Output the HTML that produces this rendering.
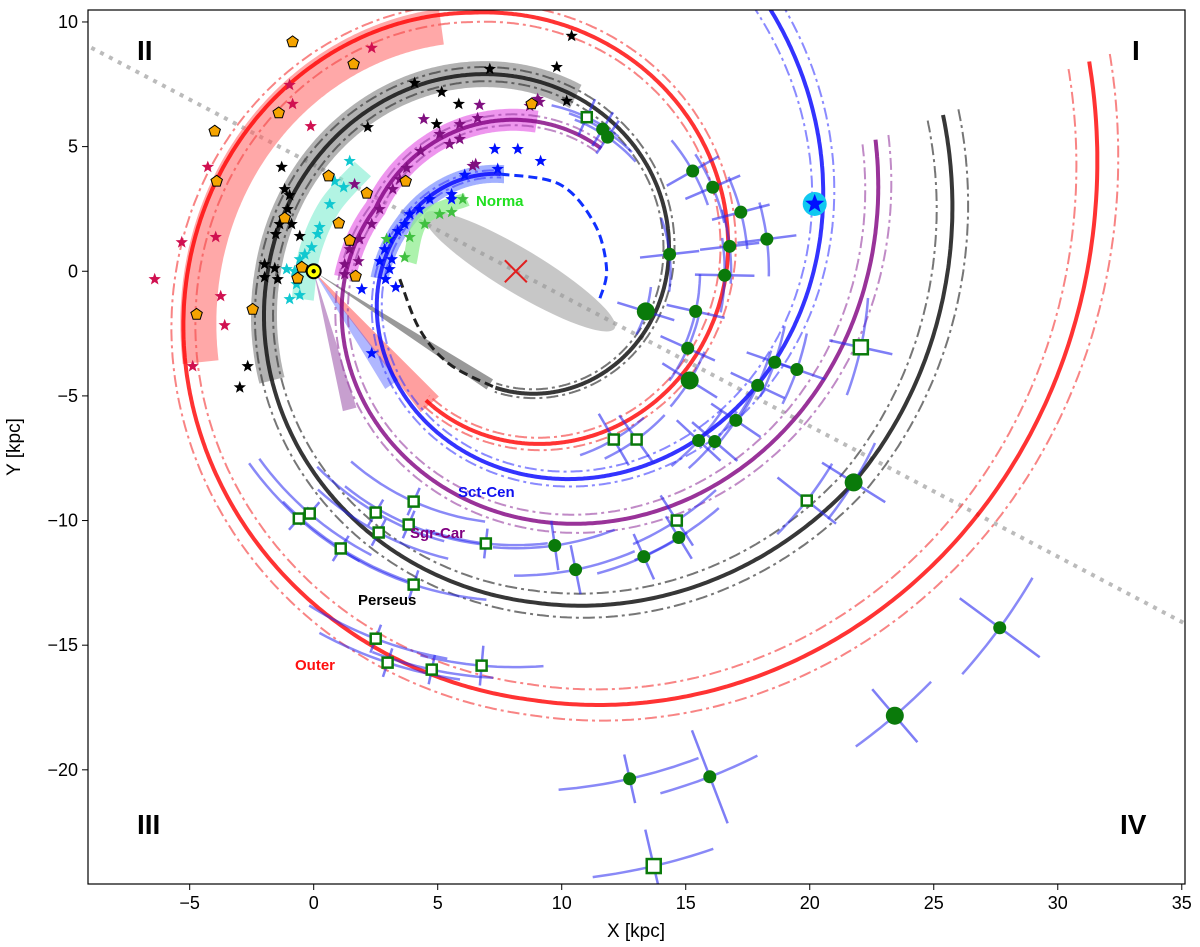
<!DOCTYPE html>
<html><head><meta charset="utf-8"><style>
html,body{margin:0;padding:0;background:#fff;}
svg{display:block;font-family:"Liberation Sans","DejaVu Sans",sans-serif;}
</style></head><body>
<svg id="chart" width="1200" height="947" viewBox="0 0 1200 947" xmlns="http://www.w3.org/2000/svg">
<g id="plot"></g>
</svg>
<script>
// ---- data ----
// spiral arms: galactocentric azimuth beta (deg) and radius R (kpc) anchors; log-interpolated
const armNames = ["Outer","Perseus","Sgr-Car","Sct-Cen"];
const outerBeta = [-200,-146,-92,17,80,177,305];
const outerR    = [24.6,20.6,17.2,12.6,10.53,8.55,6.32];
const persBeta  = [-200,-148,-93,0,79.5,174,280];
const persR     = [18.33,16.04,13.3,10.0,8.04,6.2,4.74];
const sgrBeta   = [-200,24,125];
const sgrR      = [15.43,6.2,6.01];
const sctBeta   = [-232,23,81];
const sctR      = [15.1,4.91,3.95];
const persDashX = [3.47,4.27,5.48,7.33];
const persDashY = [-0.32,-2.33,-3.73,-4.67];
const sctDashX = [7.53,9.92,11.33,11.81,11.53];
const sctDashY = [3.9,3.49,1.89,0.08,-1.12];

// arm-following bands: beta ranges (deg)
const bandRedBeta=[-16,73], bandBlkBeta=[-24,109], bandMagBeta=[-2,98], bandBluBeta=[-3,83];
const bandCyaX=[1.98,0.65,-0.16,-0.44], bandCyaY=[4.1,2.61,0.76,-1.12];
const bandGrnX=[6.17,4.4,3.87], bandGrnY=[2.89,2.09,0.36];

const wedgeEndX=[7.1,4.68,3.15,1.45], wedgeEndY=[-4.54,-5.34,-4.54,-5.54];

const circX=[15.28,16.09,17.22,18.27,16.77,14.35,16.57,13.39,15.4,15.08,15.16,18.59,19.48,17.9,17.02,15.52,16.17,21.77,11.65,11.85,9.72,10.56,13.31,14.72,27.66,23.43,15.97,12.74];
const circY=[4.02,3.37,2.37,1.29,1.0,0.68,-0.16,-1.61,-1.61,-3.09,-4.38,-3.65,-3.94,-4.58,-5.98,-6.79,-6.83,-8.47,5.7,5.38,-11.0,-11.97,-11.45,-10.68,-14.3,-17.83,-20.28,-20.36];
const circBig=[0,0,0,0,0,0,0,1,0,0,1,0,0,0,0,0,0,1,0,0,0,0,0,0,0,1,0,0];
const circArcErr=[1.5,1.5,1.5,1.5,1.5,1.5,1.5,1.0,1.5,1.5,1.3,1.5,1.5,1.5,1.5,1.5,1.5,1.8,1.5,1.5,2.5,2.5,2.0,2.0,2.4,2.0,2.1,2.9];
const circRadErr=[1.2,1.2,1.2,1.2,1.2,1.2,1.2,1.2,1.2,1.2,1.3,1.2,1.2,1.2,1.2,1.2,1.2,1.5,0.8,0.8,1.0,1.0,1.0,1.0,2.0,1.4,2.0,1.0];
const sqX=[11.01,12.1,13.02,22.06,19.88,14.64,-0.6,-0.16,2.5,4.03,3.83,2.62,1.09,6.94,4.03,2.5,2.98,4.76,6.77,13.71];
const sqY=[6.18,-6.75,-6.75,-3.05,-9.2,-10.0,-9.92,-9.72,-9.68,-9.24,-10.16,-10.48,-11.12,-10.92,-12.57,-14.74,-15.7,-15.98,-15.82,-23.86];
const sqBig=[0,0,0,1,0,0,0,0,0,0,0,0,0,0,0,0,0,0,0,1];
const sqArcErr=[1.5,1.5,1.5,2.0,1.8,2.0,3.0,3.0,3.0,3.0,3.0,3.0,3.0,2.5,3.0,3.0,3.0,2.5,2.5,2.5];
const sqRadErr=[0.8,1.2,1.2,1.3,1.5,1.2,0.6,0.6,0.6,0.6,0.6,0.6,0.6,0.6,0.6,0.6,0.6,0.6,0.8,1.5];

const redStarX=[-6.41,-5.32,-4.88,-4.27,-3.95,-3.75,-3.59,-0.97,-0.85,-0.12,2.34];
const redStarY=[-0.32,1.16,-3.81,4.18,1.37,-1.0,-2.17,7.47,6.71,5.82,8.96];
const blkStarX=[10.4,9.8,7.1,5.85,5.16,4.07,2.18,4.96,10.2,-1.29,-1.17,-0.97,-1.05,-1.37,-0.89,-1.53,-1.98,-1.57,-1.98,-1.45,-2.98,-2.66,-0.56];
const blkStarY=[9.44,8.19,8.11,6.71,7.19,7.55,5.78,5.9,6.83,4.18,3.29,3.05,2.49,1.89,1.89,1.49,0.28,0.12,-0.24,-0.32,-4.66,-3.81,1.41];
const cyaStarX=[1.45,0.85,1.21,0.65,0.24,0.16,-0.08,-0.36,-0.56,-0.77,-0.69,-0.97,-0.56,-1.09];
const cyaStarY=[4.42,3.61,3.37,2.69,1.77,1.49,0.96,0.68,0.48,0,-0.52,-1.12,-0.96,0.08];
const purStarX=[5.89,5.48,5.08,4.31,3.75,3.47,3.19,2.66,2.34,1.85,1.45,1.25,1.25,1.81,5.89,6.61,6.69,8.71,9.03,9.11,6.41,6.53,4.44,1.65];
const purStarY=[5.3,5.1,5.5,4.82,4.14,3.69,3.29,2.49,1.89,1.29,0.88,0.28,-0.12,0.4,5.9,6.14,6.67,6.63,6.91,6.79,4.22,4.3,6.1,3.49];
const bluStarX=[7.42,6.09,5.56,5.56,4.68,4.27,3.87,3.67,3.39,3.06,2.86,3.15,2.66,3.06,2.9,1.94,3.31,2.34,9.15,7.3,8.23];
const bluStarY=[4.1,3.86,3.09,2.89,2.89,2.49,2.29,1.89,1.61,1.29,0.88,0.48,0.4,0.08,-0.32,-0.72,-0.64,-3.29,4.42,4.9,4.9];
const grnStarX=[6.01,5.56,5.08,4.48,3.87,2.94,3.67];
const grnStarY=[2.89,2.37,2.29,1.89,1.37,1.29,0.56];
const pentX=[-0.85,1.61,-1.41,-3.99,-3.91,-4.72,-2.46,0.6,2.14,1.01,3.71,1.45,1.69,-0.48,-0.65,-1.17,8.79];
const pentY=[9.2,8.31,6.35,5.62,3.61,-1.73,-1.53,3.82,3.13,1.93,3.61,1.24,-0.2,0.16,-0.28,2.13,6.71];

const xTicks=[-5,0,5,10,15,20,25,30,35];
const yTicks=[-20,-15,-10,-5,0,5,10];
const GC=[8.15,0];

// ---- axes ----
const L=88,R=1185,T=10,B=884, xMin=-9.1, xMax=35.13, yMin=-24.58, yMax=10.48;
const X=v=>L+(v-xMin)/(xMax-xMin)*(R-L);
const Y=v=>B-(v-yMin)/(yMax-yMin)*(B-T);
const NS="http://www.w3.org/2000/svg";
const svg=document.getElementById('chart');
const g=document.getElementById('plot');
function mk(tag,attrs,parent){const e=document.createElementNS(NS,tag);for(const k in attrs)e.setAttribute(k,attrs[k]);(parent||g).appendChild(e);return e;}

const defs=mk('defs',{},svg);
const cp=mk('clipPath',{id:'clip'},defs);mk('rect',{x:L,y:T,width:R-L,height:B-T},cp);
g.setAttribute('clip-path','url(#clip)');

function armR(bs,rs,b){
  if(b<=bs[0]){const t=Math.log(rs[1]/rs[0])/(bs[1]-bs[0]);return rs[0]*Math.exp(t*(b-bs[0]));}
  for(let i=0;i<bs.length-1;i++){if(b<=bs[i+1]){const f=(b-bs[i])/(bs[i+1]-bs[i]);return Math.exp(Math.log(rs[i])*(1-f)+Math.log(rs[i+1])*f);}}
  const n=bs.length-1,t=Math.log(rs[n]/rs[n-1])/(bs[n]-bs[n-1]);return rs[n]*Math.exp(t*(b-bs[n]));
}
function armPath(bs,rs,b0,b1,scale){
  let d='';
  for(let b=b0,k=0;b<=b1+1e-6;b+=0.5,k++){const r=armR(bs,rs,b)*scale,a=b*Math.PI/180;
    d+=(k?'L':'M')+X(GC[0]-r*Math.cos(a)).toFixed(1)+','+Y(r*Math.sin(a)).toFixed(1);}
  return d;
}
function smooth(xs,ys){
  const P=xs.map((x,i)=>[X(x),Y(ys[i])]);
  let d='M'+P[0][0].toFixed(1)+','+P[0][1].toFixed(1);
  for(let i=0;i<P.length-1;i++){
    const p0=P[i-1]||P[i],p1=P[i],p2=P[i+1],p3=P[i+2]||P[i+1];
    const c1=[p1[0]+(p2[0]-p0[0])/6,p1[1]+(p2[1]-p0[1])/6],c2=[p2[0]-(p3[0]-p1[0])/6,p2[1]-(p3[1]-p1[1])/6];
    d+=' C'+c1.map(v=>v.toFixed(1))+' '+c2.map(v=>v.toFixed(1))+' '+p2[0].toFixed(1)+','+p2[1].toFixed(1);
  }
  return d;
}

// dotted line through GC
{const a=Math.atan2(0.526*(24.8/24.9),1);const l=60;
 const e=mk('line',{x1:X(GC[0]-l*Math.cos(a)),y1:Y(GC[1]+l*Math.sin(a)),x2:X(GC[0]+l*Math.cos(a)),y2:Y(GC[1]-l*Math.sin(a)),stroke:'#bbb','stroke-width':4,'stroke-dasharray':'4,6'});
 
 }

// bar ellipse
{const e=mk('ellipse',{cx:X(8.3),cy:Y(0),rx:111,ry:22,fill:'#999','fill-opacity':0.55,transform:`rotate(31 ${X(8.3)} ${Y(0)})`});
 
 }

// bands
const armBands=[[outerBeta,outerR,bandRedBeta,0.955,'#ff6060',0.55,36,'outer-band'],[persBeta,persR,bandBlkBeta,1,'#666',0.5,26,'perseus-band'],[sgrBeta,sgrR,bandMagBeta,1,'#e040e0',0.55,22,'sgr-car-band'],[sctBeta,sctR,bandBluBeta,1,'#3050ff',0.45,18,'sct-cen-band']];
armBands.forEach(b=>{const e=mk('path',{d:armPath(b[0],b[1],b[2][0],b[2][1],b[3]),fill:'none',stroke:b[4],'stroke-opacity':b[5],'stroke-width':b[6]});
 
 });
[[bandCyaX,bandCyaY,'#7fecd0',0.6,22,'local-band'],[bandGrnX,bandGrnY,'#90ee90',0.75,14,'norma-band']].forEach(b=>{const e=mk('path',{d:smooth(b[0],b[1]),fill:'none',stroke:b[2],'stroke-opacity':b[3],'stroke-width':b[4]});
 
 });

// wedges
const wedgeCol=['#555','#ff5050','#5060ff','#9040a0'], wedgeW=[6,12,8,7], wedgeOp=[0.6,0.55,0.45,0.5];
wedgeEndX.forEach((wx,i)=>{const sx=X(0),sy=Y(0),ex=X(wx),ey=Y(wedgeEndY[i]);const dx=ex-sx,dy=ey-sy,l=Math.hypot(dx,dy),nx=-dy/l*wedgeW[i],ny=dx/l*wedgeW[i];
 const e=mk('polygon',{points:`${sx},${sy} ${ex+nx},${ey+ny} ${ex-nx},${ey-ny}`,fill:wedgeCol[i],'fill-opacity':wedgeOp[i]});
 
 });

// arms
const arms=[[outerBeta,outerR,'rgba(255,0,0,0.8)','rgba(245,80,80,0.7)','outer-arm'],[persBeta,persR,'rgba(20,20,20,0.85)','rgba(60,60,60,0.7)','perseus-arm'],[sgrBeta,sgrR,'rgba(128,0,128,0.8)','rgba(150,60,160,0.6)','sgr-car-arm'],[sctBeta,sctR,'rgba(0,0,255,0.8)','rgba(60,60,255,0.6)','sct-cen-arm']];
arms.forEach(a=>{
  const b0=a[0][0],b1=a[0][a[0].length-1];
  [0.964,1.036].forEach(s=>{const e=mk('path',{d:armPath(a[0],a[1],b0,b1,s),fill:'none',stroke:a[3],'stroke-width':2,'stroke-dasharray':'12,4,3,4'});
   
   });
  const e=mk('path',{d:armPath(a[0],a[1],b0,b1,1),fill:'none',stroke:a[2],'stroke-width':4});
  
  
});
{const e=mk('path',{d:smooth(persDashX,persDashY),fill:'none',stroke:'#222','stroke-width':3,'stroke-dasharray':'9,5'});
 
 }
{const e=mk('path',{d:smooth(sctDashX,sctDashY),fill:'none',stroke:'#1030ff','stroke-width':3,'stroke-dasharray':'9,5'});
 
 }

// error bars (galactocentric radial line + azimuthal arc)
function errbars(x,y,arcE,radE){const dx=x-GC[0],dy=y-GC[1];const d=Math.hypot(dx,dy),ux=dx/d,uy=dy/d;const ea=arcE/d;
  const e1=mk('line',{x1:X(x-ux*radE),y1:Y(y-uy*radE),x2:X(x+ux*radE),y2:Y(y+uy*radE),stroke:'rgba(40,40,240,0.6)','stroke-width':2.5});
  
  
  const a0=Math.atan2(dy,dx);let pd='';for(let k=0;k<=16;k++){const a=a0-ea+2*ea*k/16;pd+=(k?'L':'M')+X(GC[0]+d*Math.cos(a)).toFixed(1)+','+Y(GC[1]+d*Math.sin(a)).toFixed(1);}
  const e2=mk('path',{d:pd,fill:'none',stroke:'rgba(40,40,240,0.55)','stroke-width':2.5});
  
  }
circX.forEach((x,i)=>errbars(x,circY[i],circArcErr[i],circRadErr[i]));
sqX.forEach((x,i)=>errbars(x,sqY[i],sqArcErr[i],sqRadErr[i]));

// stars
function starPts(cx,cy,r){let p=[];for(let k=0;k<10;k++){const a=-Math.PI/2+k*Math.PI/5,rr=k%2?r*0.42:r;p.push((cx+rr*Math.cos(a)).toFixed(1)+','+(cy+rr*Math.sin(a)).toFixed(1));}return p.join(' ');}
const starSets=[[redStarX,redStarY,'#d01050'],[blkStarX,blkStarY,'#000'],[cyaStarX,cyaStarY,'#10c8d0'],[purStarX,purStarY,'#801080'],[bluStarX,bluStarY,'#0010ff'],[grnStarX,grnStarY,'#40c040']];
starSets.forEach(s=>s[0].forEach((x,i)=>{const e=mk('polygon',{points:starPts(X(x),Y(s[1][i]),6.5),fill:s[2]});
  
  }));
pentX.forEach((x,i)=>{const cx=X(x),cy=Y(pentY[i]);let p=[];for(let k=0;k<5;k++){const a=-Math.PI/2+k*2*Math.PI/5;p.push((cx+6*Math.cos(a)).toFixed(1)+','+(cy+6*Math.sin(a)).toFixed(1));}
  const e=mk('polygon',{points:p.join(' '),fill:'#f5a400',stroke:'#000','stroke-width':1});
  
  });

// green markers
circX.forEach((x,i)=>{const e=mk('circle',{cx:X(x),cy:Y(circY[i]),r:circBig[i]?9:6.5,fill:'#0a7a0a'});
 
 });
sqX.forEach((x,i)=>{const s=sqBig[i]?14:10;const e=mk('rect',{x:X(x)-s/2,y:Y(sqY[i])-s/2,width:s,height:s,fill:'#fff',stroke:'#0a7a0a','stroke-width':2.5});
 
 });

// special markers
{const e=mk('circle',{cx:X(20.2),cy:Y(2.7),r:12,fill:'#10c8f0'});
 const s=mk('polygon',{points:starPts(X(20.2),Y(2.7),10),fill:'#0010ff'});}
{const cx=X(GC[0]),cy=Y(GC[1]);const e=mk('path',{d:`M${cx-11},${cy-11}L${cx+11},${cy+11}M${cx-11},${cy+11}L${cx+11},${cy-11}`,stroke:'#e02020','stroke-width':2});
 }
{const e=mk('circle',{cx:X(0),cy:Y(0),r:7,fill:'#ffff00',stroke:'#000','stroke-width':2});
 const d=mk('circle',{cx:X(0),cy:Y(0),r:2.2,fill:'#000'});}

// labels
const labs=[['Norma',476,206,'#20e020',15,'norma-label'],['Sct-Cen',458,497,'#1010f0',15,'sct-cen-label'],['Sgr-Car',410,538,'#800080',15,'sgr-car-label'],['Perseus',358,605,'#000',15,'perseus-label'],['Outer',295,670,'#ff1010',15,'outer-label'],
 ['II',137,60,'#000',28,'quadrant-ii'],['I',1132,60,'#000',28,'quadrant-i'],['III',137,834,'#000',28,'quadrant-iii'],['IV',1120,834,'#000',28,'quadrant-iv']];
labs.forEach(l=>{const t=mk('text',{x:l[1],y:l[2],fill:l[3],'font-size':l[4],'font-weight':'bold'});t.textContent=l[0];
 });

// frame + ticks
{const r=mk('rect',{x:L,y:T,width:R-L,height:B-T,fill:'none',stroke:'#000','stroke-width':1.2},svg);}
xTicks.forEach(v=>{const l=mk('line',{x1:X(v),x2:X(v),y1:B,y2:B+6,stroke:'#000','stroke-width':1},svg);
 const t=mk('text',{x:X(v),y:B+25,'text-anchor':'middle','font-size':18},svg);t.textContent=(v<0?'\u2212'+(-v):v);});
yTicks.forEach(v=>{const l=mk('line',{x1:L-6,x2:L,y1:Y(v),y2:Y(v),stroke:'#000','stroke-width':1},svg);
 const t=mk('text',{x:L-10,y:Y(v)+6,'text-anchor':'end','font-size':18},svg);t.textContent=(v<0?'\u2212'+(-v):v);});
{const t=mk('text',{x:636,y:937,'text-anchor':'middle','font-size':19},svg);t.textContent='X [kpc]';}
{const t=mk('text',{x:0,y:0,'text-anchor':'middle','font-size':19,transform:'translate(20,447) rotate(-90)'},svg);t.textContent='Y [kpc]';}
</script>
</body></html>
